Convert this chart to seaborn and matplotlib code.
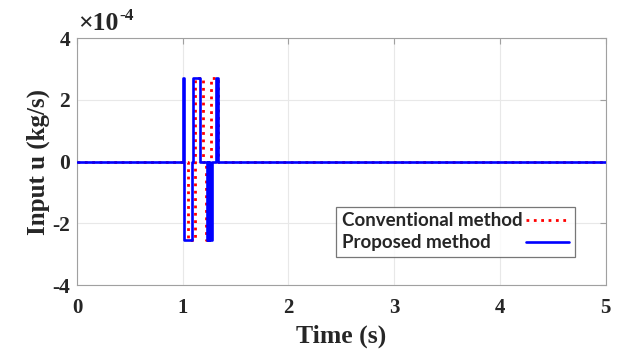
import numpy as np
import pandas as pd
import matplotlib
matplotlib.use("Agg")
import matplotlib.pyplot as plt
from matplotlib.lines import Line2D
from matplotlib.ticker import FuncFormatter
import seaborn as sns

# ------------------------------------------------------------------
# data, input u in kg/s, step-post switching
# ------------------------------------------------------------------
t_proposed = [0.0, 1.005, 1.016, 1.085, 1.100, 1.165, 1.226, 1.236, 1.242, 1.252,
              1.258, 1.273, 1.310, 1.330, 5.0]
u_proposed = [0.0, 2.7e-4, -2.55e-4, 0.0, 2.7e-4, 0.0, -2.55e-4, 0.0, -2.55e-4, 0.0,
              -2.55e-4, 0.0, 2.7e-4, 0.0, 0.0]

t_conventional = [0.0, 1.046, 1.118, 1.190, 1.222, 1.268, 1.335, 5.0]
u_conventional = [0.0, -2.55e-4, 2.7e-4, 0.0, -2.55e-4, 2.7e-4, 0.0, 0.0]

x_ticks = [0, 1, 2, 3, 4, 5]
y_ticks = [-4e-4, -2e-4, 0, 2e-4, 4e-4]
y_scale = 1e-4

df_p = pd.DataFrame({"t": t_proposed, "u": u_proposed})
df_c = pd.DataFrame({"t": t_conventional, "u": u_conventional})

sns.set_theme(style="whitegrid")
plt.rcParams["font.family"] = ["Liberation Serif", "DejaVu Serif"]
plt.rcParams["axes.unicode_minus"] = False

fig, ax = plt.subplots(figsize=(6.31, 3.49), dpi=100)
fig.subplots_adjust(left=0.122, right=0.960, bottom=0.183, top=0.891)

sns.lineplot(data=df_c, x="t", y="u", ax=ax, color="red", linestyle=":",
             linewidth=2.0, drawstyle="steps-post", estimator=None, zorder=2)
sns.lineplot(data=df_p, x="t", y="u", ax=ax, color="blue", linestyle="-",
             linewidth=1.9, drawstyle="steps-post", estimator=None, zorder=3)

ax.set_xlim(0, 5)
ax.set_ylim(-4e-4, 4e-4)
ax.set_xticks(x_ticks)
ax.set_yticks(y_ticks)
ax.yaxis.set_major_formatter(FuncFormatter(lambda v, p: f"{v / y_scale:.0f}"))

# exponent label in the MATLAB style
ax.text(0.002, 1.012, "\u00d710", transform=ax.transAxes, fontsize=18.5,
        ha="left", va="bottom", color="#262626", fontweight="bold")
ax.text(0.080, 1.058, "-4", transform=ax.transAxes, fontsize=12.5,
        ha="left", va="bottom", color="#262626", fontweight="bold")

ax.tick_params(axis="both", direction="in", length=4, width=0.8,
               color="#a0a0a0", top=True, right=True)
ax.tick_params(axis="x", labelsize=15, labelcolor="#262626", pad=9)
ax.tick_params(axis="y", labelsize=15.5, labelcolor="#262626", pad=5)
for lab in ax.get_xticklabels() + ax.get_yticklabels():
    lab.set_fontweight("bold")

ax.set_xlabel("Time (s)", fontsize=18.5, fontweight="bold", labelpad=5, color="#262626")
ax.set_ylabel("Input u (kg/s)", fontsize=18, fontweight="bold", labelpad=2, color="#262626")

ax.set_facecolor("white")
ax.grid(True, color="#e8e8e8", linewidth=0.8)
for sp in ax.spines.values():
    sp.set_color("#a0a0a0")
    sp.set_linewidth(0.8)

# legend: labels left aligned, line samples on the right
leg_font = {"family": "Lato", "weight": "bold", "size": 13.5}
labels = ["Conventional method", "Proposed method"]
renderer = fig.canvas.get_renderer()


def text_width(s):
    t = fig.text(0, 0, s, fontproperties=matplotlib.font_manager.FontProperties(**leg_font))
    w = t.get_window_extent(renderer).width
    t.remove()
    return w


target = text_width(labels[0])
padded = labels[1]
while text_width(padded + " ") <= target + 1:
    padded += " "

handles = [Line2D([0], [0], color="red", linestyle=":", linewidth=2.0),
           Line2D([0], [0], color="blue", linestyle="-", linewidth=1.9)]
leg = ax.legend(handles, [labels[0], padded],
                loc="lower right", bbox_to_anchor=(0.942, 0.115),
                markerfirst=False, frameon=True, fancybox=False,
                prop=leg_font, handlelength=2.3, borderpad=0.3,
                labelspacing=0.25, handletextpad=0.2, borderaxespad=0)
leg.get_frame().set_edgecolor("#555555")
leg.get_frame().set_linewidth(0.9)

fig.savefig("out.png", dpi=100)
